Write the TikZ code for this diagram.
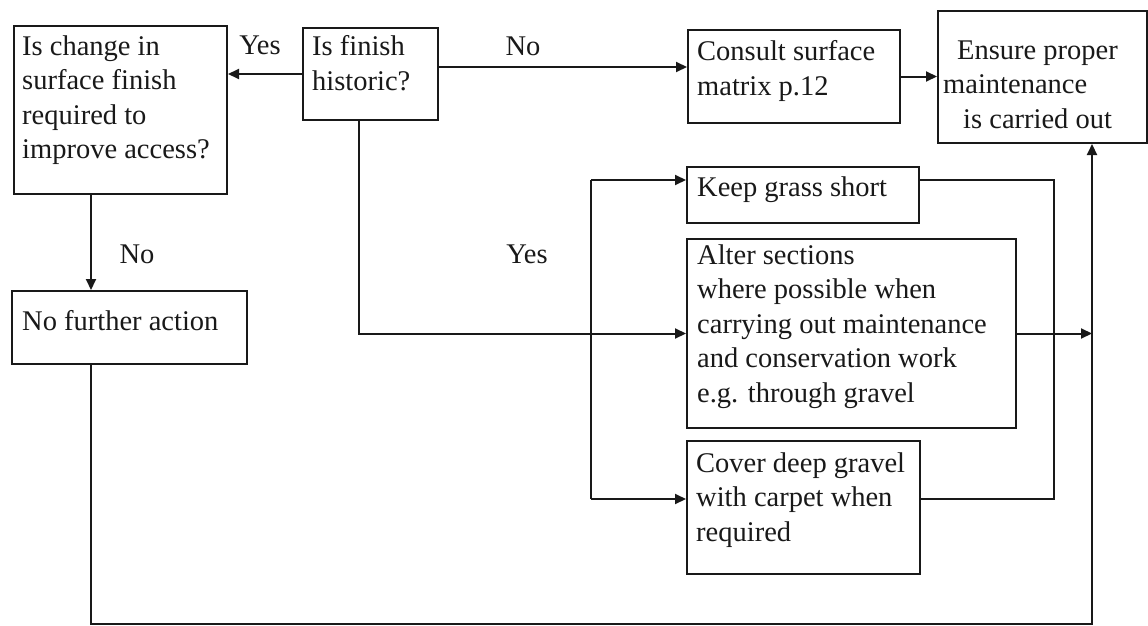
\documentclass[tikz,border=0pt]{standalone}
\usepackage{fontspec}
\setmainfont{Liberation Serif}
\usetikzlibrary{arrows.meta}
\definecolor{ink}{RGB}{25,25,25}
\begin{document}
\begin{tikzpicture}[x=1pt,y=-1pt,
  box/.style={draw=ink, line width=2pt, anchor=north west, inner sep=0pt},
  txt/.style={anchor=north west, inner sep=0pt, align=left, text=ink, font=\fontsize{28.5}{34.5}\selectfont},
  lbl/.style={anchor=base, inner sep=0pt, text=ink, font=\fontsize{28.5}{34.5}\selectfont},
  con/.style={draw=ink, line width=2pt},
  arr/.style={con, -{Triangle[length=11pt,width=10pt]}}]
\useasboundingbox[fill=white] (0,0) rectangle (1148,626);

% boxes
\node[box, minimum width=213pt, minimum height=168pt] (A) at (13,25) {};
\node[box, minimum width=135pt, minimum height=92pt]  (B) at (302,27) {};
\node[box, minimum width=212pt, minimum height=93pt]  (C) at (687,29) {};
\node[box, minimum width=209pt, minimum height=132pt] (D) at (937,10) {};
\node[box, minimum width=232pt, minimum height=56pt]  (E) at (686,166) {};
\node[box, minimum width=329pt, minimum height=189pt] (F) at (686,238) {};
\node[box, minimum width=233pt, minimum height=133pt] (G) at (686,440) {};
\node[box, minimum width=235pt, minimum height=73pt]  (H) at (11,290) {};

% texts
\node[txt] (tA) at (22,35.5) {Is change in\\surface finish\\required to\\improve access?};
\node[txt] (tB) at (312,35.5) {Is finish\\historic?};
\node[txt] (tC) at (697,40.5) {Consult surface\\matrix p.12};
\node[txt] (tD) at (943,40.5) {\hspace*{14pt}Ensure proper\\maintenance\\\hspace*{20pt}is carried out};
\node[txt] (tE) at (697,176.5) {Keep grass short};
\node[txt] (tF) at (697,244.5) {Alter sections\\where possible when\\carrying out maintenance\\and conservation work\\e.g. through gravel};
\node[txt] (tG) at (696,452.5) {Cover deep gravel\\with carpet when\\required};
\node[txt] (tH) at (22,310.5) {No further action};

% labels
\node[lbl] (l1) at (260,55) {Yes};
\node[lbl] (l2) at (523,56) {No};
\node[lbl] (l3) at (137,263) {No};
\node[lbl] (l4) at (527,263) {Yes};

% connectors
\draw[arr] (B.west) -- (B.west -| A.east);
\draw[arr] (B.east |- 0,67) -- (C.west |- 0,67);
\draw[arr] (C.east) -- (C.east -| D.west);
\draw[arr] (B.south -| 359,0) |- (F.west);
\coordinate (bt) at (591,180);
\coordinate (bb) at (591,499);
\draw[con] (bt) -- (bb);
\draw[arr] (bt) -- (bt -| E.west);
\draw[arr] (bb) -- (bb -| G.west);
\coordinate (rt) at (1054,180);
\coordinate (rb) at (1054,499);
\draw[con] (E.east |- rt) -- (rt) -- (rb) -- (G.east |- rb);
\draw[arr] (F.east) -- (F.east -| 1092,0);
\draw[arr] (A.south -| 91,0) -- (H.north -| 91,0);
\coordinate (c1) at (91,624);
\coordinate (c2) at (1092,624);
\draw[arr] (H.south -| c1) -- (c1) -- (c2) -- (D.south -| c2);
\end{tikzpicture}
\end{document}
